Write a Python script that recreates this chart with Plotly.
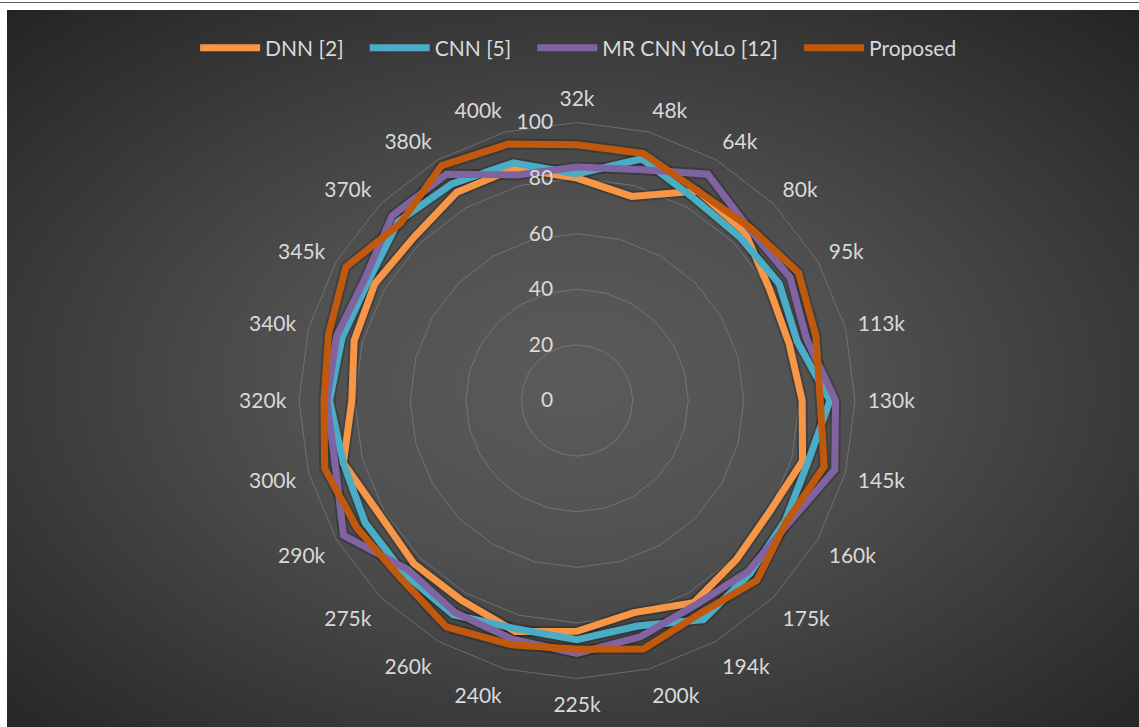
import urllib.parse
import plotly.graph_objects as go

# Radar chart: accuracy (%) of four detectors across dataset sizes
categories = ["32k", "48k", "64k", "80k", "95k", "113k", "130k", "145k", "160k",
              "175k", "194k", "200k", "225k", "240k", "260k", "275k", "290k", "300k",
              "320k", "340k", "345k", "370k", "380k", "400k"]

dnn = [80, 76, 87, 85.5, 80, 79, 81, 84, 80, 81, 84, 79,
       83, 86, 83, 83, 82, 87, 81, 83, 84, 83, 86.5, 86.5]
cnn = [81.5, 90, 84, 83, 84, 82, 91, 86, 86.5, 88, 91, 84,
       86, 85, 89, 88, 88, 87, 89, 87.5, 86.5, 91, 90, 88.5]
mr_cnn_yolo = [84, 86, 94, 87.5, 88.5, 85.5, 93, 96, 88, 87, 85, 88,
               91, 89, 88, 86, 97, 90, 90, 89.5, 88, 94, 94, 84]
proposed = [92, 92, 87, 88, 92, 89, 87.5, 92, 87, 91.5, 88.5, 92.5,
            89.5, 91, 94, 90, 91.5, 94, 91, 92.5, 96, 90, 97.5, 95.5]

radial_ticks = [0, 20, 40, 60, 80, 100]

series = [
    ("DNN [2]", dnn, "#F79646"),
    ("CNN [5]", cnn, "#4BACC6"),
    ("MR CNN YoLo [12]", mr_cnn_yolo, "#8064A2"),
    ("Proposed", proposed, "#C0580E"),
]

W, H = 1139, 727
TEXT = "#D9D9D9"
GRID = "rgba(140,140,140,0.55)"
FONT = "Lato"
FS = 21
PAD = "\u00a0" * 3  # extra room after each legend label

fig = go.Figure()

# soft drop shadow beneath every line
for name, vals, color in series:
    fig.add_trace(go.Scatterpolar(
        r=vals + vals[:1], theta=categories + categories[:1],
        mode="lines", line=dict(color="rgba(0,0,0,0.2)", width=11),
        showlegend=False, hoverinfo="skip",
    ))

for i, (name, vals, color) in enumerate(series):
    fig.add_trace(go.Scatterpolar(
        r=vals + vals[:1], theta=categories + categories[:1],
        mode="lines", name=name + (PAD if i < len(series) - 1 else ""),
        line=dict(color=color, width=7),
    ))

# dark radial background panel
bg_svg = (
    "<svg xmlns='http://www.w3.org/2000/svg' width='1132' height='717' "
    "preserveAspectRatio='none'>"
    "<defs><radialGradient id='g' cx='50%' cy='52%' r='72%'>"
    "<stop offset='0' stop-color='#5b5b5b'/>"
    "<stop offset='0.35' stop-color='#505050'/>"
    "<stop offset='1' stop-color='#242424'/>"
    "</radialGradient></defs>"
    "<rect width='1132' height='717' fill='url(#g)'/></svg>"
)
bg_uri = "data:image/svg+xml;charset=utf-8," + urllib.parse.quote(bg_svg)

cx, cy, R = 577, 400.5, 278
fig.update_layout(
    width=W, height=H,
    margin=dict(l=0, r=0, t=0, b=0),
    paper_bgcolor="white",
    font=dict(family=FONT, color=TEXT, size=FS),
    images=[dict(
        source=bg_uri, xref="paper", yref="paper",
        x=7 / W, y=1 - 10 / H, sizex=(W - 7) / W, sizey=(H - 10) / H,
        xanchor="left", yanchor="top", sizing="stretch", layer="below",
    )],
    shapes=[dict(type="line", xref="paper", yref="paper",
                 x0=0, x1=1, y0=1 - 2.5 / H, y1=1 - 2.5 / H,
                 line=dict(color="#606060", width=1))],
    legend=dict(
        orientation="h", x=0.508, xanchor="center", y=1 - 48 / H, yanchor="middle",
        font=dict(family=FONT, size=FS, color=TEXT),
        bgcolor="rgba(0,0,0,0)", itemwidth=60, traceorder="normal",
    ),
    polar=dict(
        domain=dict(x=[(cx - R) / W, (cx + R) / W],
                    y=[(H - cy - R) / H, (H - cy + R) / H]),
        bgcolor="rgba(0,0,0,0)",
        gridshape="linear",
        radialaxis=dict(
            range=[0, 100], tickvals=radial_ticks, angle=90, tickangle=90,
            side="counterclockwise", showline=False,
            gridcolor=GRID, gridwidth=1,
            ticks="outside", ticklen=16, tickcolor="rgba(0,0,0,0)",
            tickfont=dict(family=FONT, size=FS, color=TEXT),
        ),
        angularaxis=dict(
            direction="clockwise", rotation=90, type="category",
            categoryarray=categories,
            showgrid=False, showline=True, linecolor=GRID, linewidth=1,
            ticks="outside", ticklen=8, tickcolor="rgba(0,0,0,0)",
            tickfont=dict(family=FONT, size=FS, color=TEXT),
        ),
    ),
)

fig.write_html("out.html")
